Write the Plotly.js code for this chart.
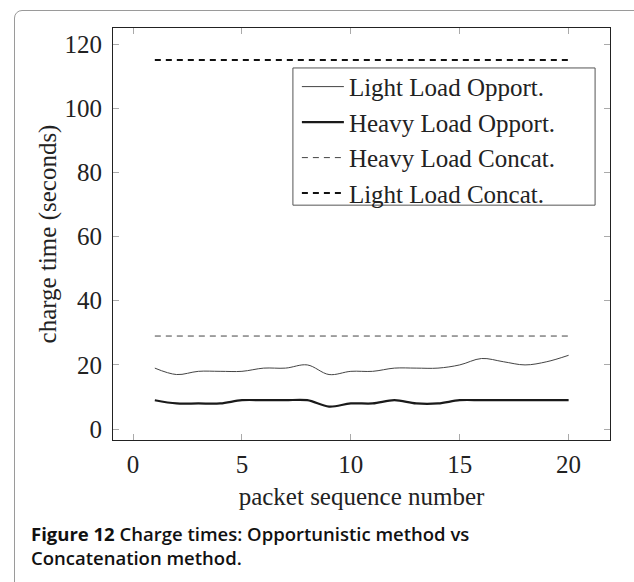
<!DOCTYPE html>
<html>
<head>
<meta charset="utf-8">
<script src="https://cdn.plot.ly/plotly-3.0.1.min.js"></script>
<style>
  html, body { margin: 0; padding: 0; background: #fff; overflow: hidden; }
  #wrap { position: relative; width: 634px; height: 582px; overflow: hidden; }
  #frame { position: absolute; left: 14px; top: 10px; width: 700px; height: 700px;
           border: 1px solid #9a9a9a; border-radius: 8px; box-sizing: border-box; }
  #chart { position: absolute; left: 0; top: 0; width: 634px; height: 582px; }
</style>
</head>
<body>
<div id="wrap">
  <div id="frame"></div>
  <div id="chart"></div>
</div>
<script>
// Data
const packetSeq = [1,2,3,4,5,6,7,8,9,10,11,12,13,14,15,16,17,18,19,20];
const lightLoadOpport = [19,17,18,18,18,19,19,20,17,18,18,19,19,19,20,22,21,20,21,23];
const heavyLoadOpport = [9,8,8,8,9,9,9,9,7,8,8,9,8,8,9,9,9,9,9,9];
const heavyLoadConcat = [29,29,29,29,29,29,29,29,29,29,29,29,29,29,29,29,29,29,29,29];
const lightLoadConcat = [115,115,115,115,115,115,115,115,115,115,115,115,115,115,115,115,115,115,115,115];
const seriesNames = ["Light Load Opport.", "Heavy Load Opport.", "Heavy Load Concat.", "Light Load Concat."];
const xTickVals = [0,5,10,15,20];
const yTickVals = [0,20,40,60,80,100,120];

const serif = "Liberation Serif, Times New Roman, serif";
const FS = 25;

const traces = [
  {x: packetSeq, y: lightLoadOpport, name: seriesNames[0], legendgroup: "a", mode: "lines",
   line: {color: "#444", width: 1, shape: "spline", smoothing: 1}},
  {x: packetSeq, y: heavyLoadOpport, name: seriesNames[1], legendgroup: "b", mode: "lines",
   line: {color: "#1a1a1a", width: 2.2, shape: "spline", smoothing: 1}},
  {x: packetSeq, y: heavyLoadConcat, name: seriesNames[2], legendgroup: "c", mode: "lines",
   line: {color: "#444", width: 1, dash: "6px,5px"}},
  {x: packetSeq, y: lightLoadConcat, name: seriesNames[3], legendgroup: "d", mode: "lines",
   line: {color: "#111", width: 2, dash: "6px,5px"}}
];

const layout = {
  width: 634, height: 582,
  margin: {l: 113, r: 24, t: 28, b: 142},
  paper_bgcolor: "rgba(0,0,0,0)",
  plot_bgcolor: "rgba(0,0,0,0)",
  font: {family: serif, size: FS, color: "#222"},
  showlegend: true,
  legend: {
    x: 0.370, y: 0.913, xanchor: "left", yanchor: "top",
    borderwidth: 0, bgcolor: "rgba(0,0,0,0)",
    font: {family: serif, size: FS, color: "#222"},
    tracegroupgap: 0, itemwidth: 42
  },
  shapes: [{
    type: "rect", xref: "paper", yref: "paper",
    x0: 0.362, x1: 0.970, y0: 0.570, y1: 0.903,
    line: {color: "#555", width: 1}, fillcolor: "#fff", layer: "below"
  }],
  xaxis: {
    range: [-0.92, 21.9],
    tickvals: xTickVals,
    ticks: "inside", ticklen: 6, tickcolor: "#aaa", tickwidth: 1,
    showline: true, linecolor: "#222", linewidth: 1, mirror: "ticks",
    showgrid: false, zeroline: false,
    tickfont: {family: serif, size: FS, color: "#222"},
    ticklabelstandoff: 2,
    title: {text: "packet sequence number", font: {family: serif, size: FS, color: "#222"}, standoff: 10}
  },
  yaxis: {
    range: [-3.4, 125],
    tickvals: yTickVals,
    ticks: "inside", ticklen: 6, tickcolor: "#aaa", tickwidth: 1,
    showline: true, linecolor: "#222", linewidth: 1, mirror: "ticks",
    showgrid: false, zeroline: false,
    tickfont: {family: serif, size: FS, color: "#222"},
    ticklabelstandoff: 5,
    title: {text: "charge time (seconds)", font: {family: serif, size: FS, color: "#222"}, standoff: 0}
  },
  annotations: [{
    xref: "paper", yref: "paper", x: -0.169, y: -0.192, xanchor: "left", yanchor: "top",
    align: "left", showarrow: false,
    text: "<b>Figure 12</b> Charge times: Opportunistic method vs<br>Concatenation method.",
    font: {family: "Open Sans, sans-serif", size: 18.5, color: "#111", weight: 600}
  }]
};

Plotly.newPlot("chart", traces, layout, {staticPlot: true, displayModeBar: false});
</script>
</body>
</html>
